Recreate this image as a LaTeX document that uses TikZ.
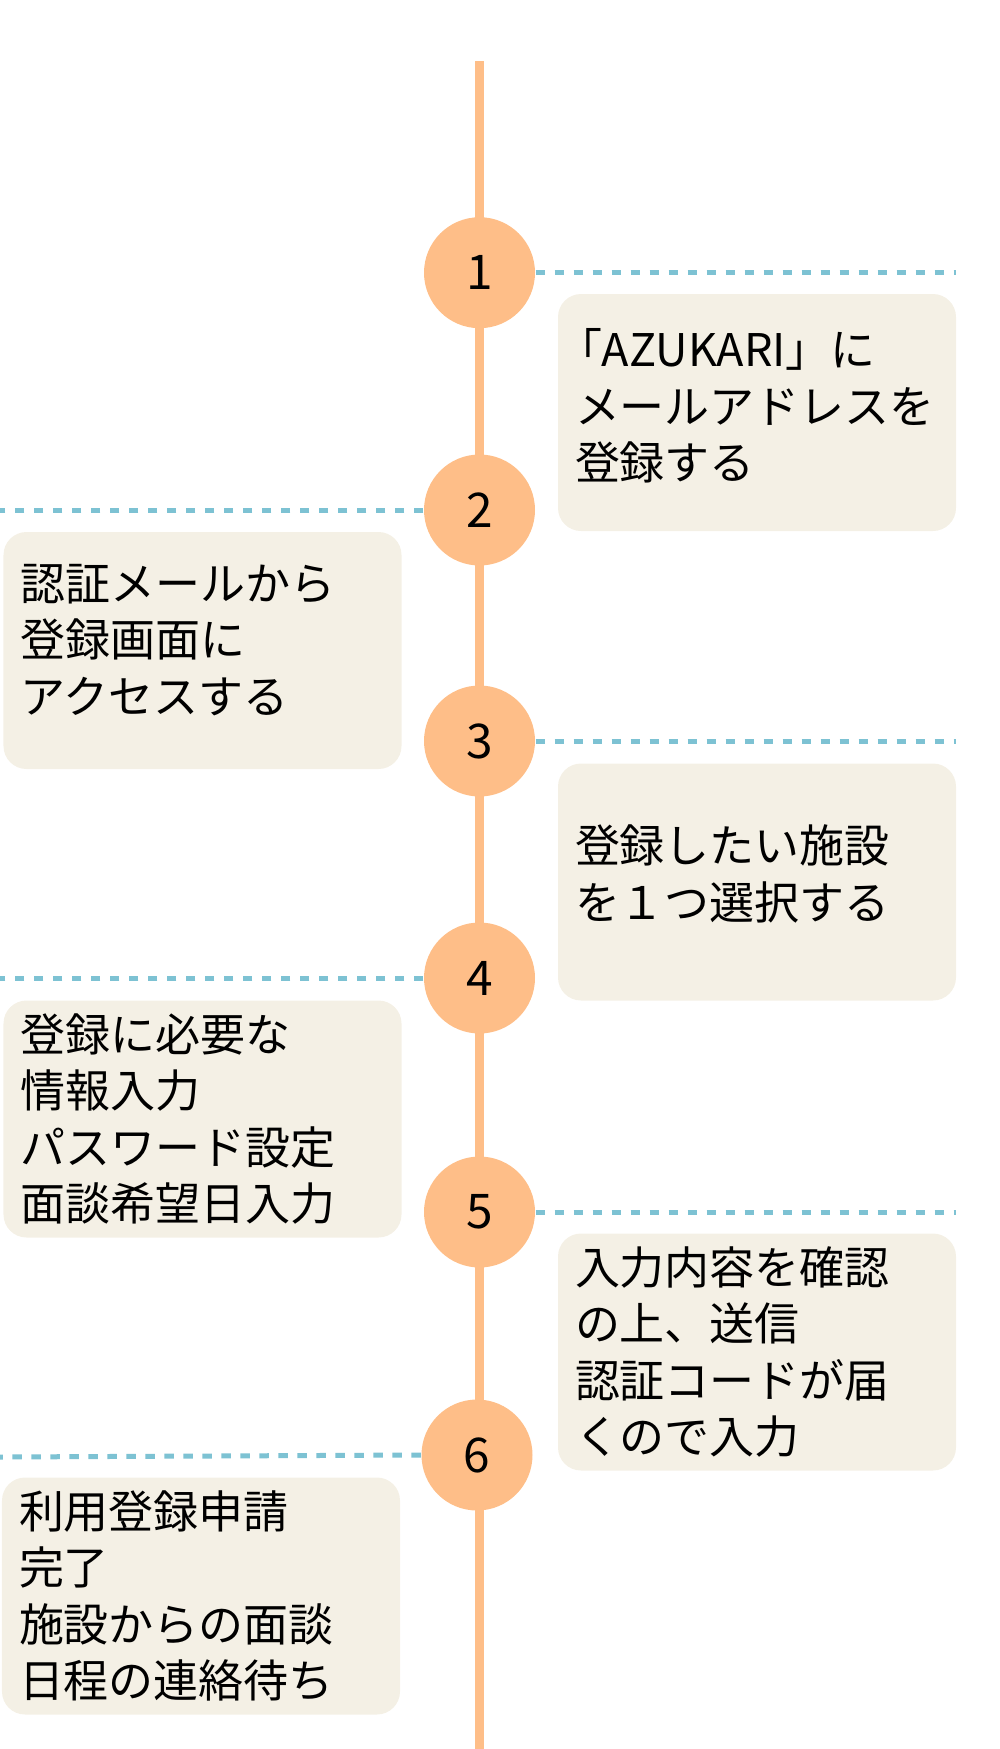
\documentclass[tikz,border=0pt]{standalone}
\usepackage{fontspec}
\setmainfont{Noto Sans CJK JP}
\usepackage{xcolor}
\usepackage{tikz}
\definecolor{peachmain}{HTML}{FEBE88}
\definecolor{bluedot}{HTML}{7DC2D3}
\definecolor{creambox}{HTML}{F4F0E5}
\newcommand{\liftby}[1]{\rule[-#1]{0pt}{#1}}
\tikzset{
  stepnum/.style={circle,fill=peachmain,minimum size=1.11cm,inner sep=0pt,
    font=\fontsize{13.6}{16}\selectfont},
  stepbox/.style={rounded corners=0.23cm,fill=creambox,minimum height=2.37cm,
    text width=3.64cm,inner xsep=0.17cm,inner ysep=0pt,align=left,
    font=\fontsize{12.8}{16.1}\selectfont},
  guide/.style={bluedot,line width=0.05cm,dash pattern=on 0.095cm off 0.095cm},
}

\begin{document}
\begin{tikzpicture}[x=1cm,y=1cm]
  \useasboundingbox (0,0) rectangle (10,-17.49);
  % timeline spine, behind the numbered steps
  \coordinate (top) at (4.795,-0.61);
  \coordinate (bot) at (4.795,-17.49);
  \draw[peachmain,line width=0.085cm] (top)--(bot);
  \coordinate (r1) at (9.56,-2.727);
  \coordinate (l2) at (0,-5.10);
  \coordinate (r3) at (9.56,-7.41);
  \coordinate (l4) at (0,-9.78);
  \coordinate (r5) at (9.56,-12.12);
  \coordinate (l6) at (0,-14.57);
  \node[stepnum] (c1) at (4.795,-2.727) {1};
  \node[stepnum] (c2) at (4.795,-5.10) {2};
  \node[stepnum] (c3) at (4.795,-7.41) {3};
  \node[stepnum] (c4) at (4.795,-9.78) {4};
  \node[stepnum] (c5) at (4.795,-12.12) {5};
  \node[stepnum] (c6) at (4.77,-14.55) {6};
  \draw[guide] (c1.east)--(r1);
  \draw[guide] (c2.west)--(l2);
  \draw[guide] (c3.east)--(r3);
  \draw[guide] (c4.west)--(l4);
  \draw[guide] (c5.east)--(r5);
  \draw[guide] (c6.west)--(l6);
  \node[stepbox] (b1) at (7.57,-4.125) {\kern-0.4em「AZUKARI」に\\メールアドレスを\\登録する\liftby{0.17cm}};
  \node[stepbox] (b2) at (2.025,-6.505) {認証メールから\\登録画面に\\アクセスする\liftby{0.24cm}};
  \node[stepbox] (b3) at (7.57,-8.82) {登録したい施設\\を１つ選択する\liftby{0.2cm}};
  \node[stepbox] (b4) at (2.025,-11.19) {登録に必要な\\情報入力\\パスワード設定\\面談希望日入力};
  \node[stepbox] (b5) at (7.57,-13.52) {入力内容を確認\\の上、送信\\認証コードが届\\くので入力};
  \node[stepbox] (b6) at (2.01,-15.96) {利用登録申請\\完了\\施設からの面談\\日程の連絡待ち};
\end{tikzpicture}
\end{document}
